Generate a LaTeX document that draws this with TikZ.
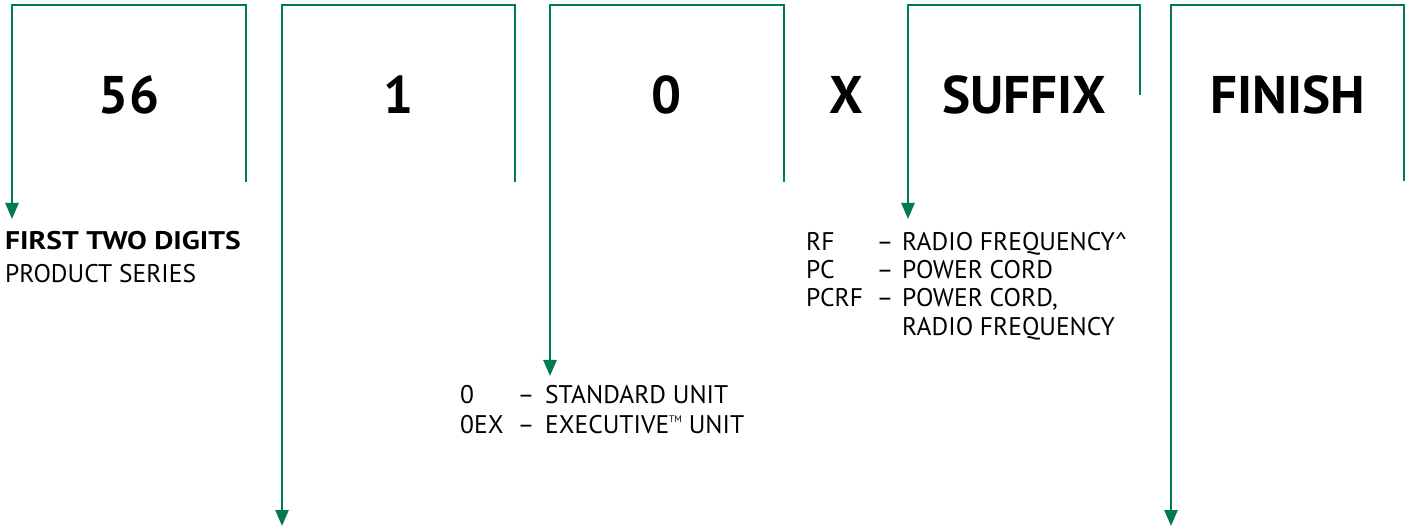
\documentclass[tikz,border=0pt]{standalone}
\usepackage{fontspec}
\setmainfont{PT Sans}
\usetikzlibrary{arrows.meta}
\definecolor{brgreen}{RGB}{0,122,82}
\newcommand{\tmsym}{\raisebox{11pt}{\fontsize{9.5}{10}\selectfont TM}}
\begin{document}
\begin{tikzpicture}[x=1pt,y=-1pt,
  brk/.style={draw=brgreen,line width=2.6pt,line cap=butt,line join=miter},
  brkarr/.style={brk,-{Triangle[width=13pt,length=16pt]}},
  title/.style={font=\fontsize{53}{60}\selectfont\bfseries,inner sep=0pt,anchor=base},
  body/.style={font=\fontsize{25.5}{30}\selectfont,inner sep=0pt,anchor=base west},
  boldbody/.style={body,font=\fontsize{25.5}{30}\selectfont\bfseries\addfontfeature{FakeStretch=1.16}},
  dashn/.style={font=\fontsize{25.5}{30}\selectfont,inner sep=0pt,anchor=base}]
\useasboundingbox (0,0) rectangle (1406,529);
% titles
\node[title] (n56) at (129,114) {56};
\node[title] (n1) at (398.5,114) {1};
\node[title] (n0) at (666.5,114) {0};
\node[title] (nx) at (846,114) {X};
\node[title] (nsuf) at (1024,114) {SUFFIX};
\node[title] (nfin) at (1287.5,114) {FINISH};
% bracket corners
\coordinate (r1) at (246,182); \coordinate (c1) at (12,5); \coordinate (t1) at (12,219);
\coordinate (r2) at (515,182); \coordinate (c2) at (282,5); \coordinate (t2) at (282,526);
\coordinate (r3) at (784,182); \coordinate (c3) at (550,5); \coordinate (t3) at (550,376);
\coordinate (r4) at (1140,95); \coordinate (c4) at (908,5); \coordinate (t4) at (908,219);
\coordinate (r5) at (1404,181); \coordinate (c5) at (1171,5); \coordinate (t5) at (1171,526);
\foreach \i in {1,...,5}{
  \draw[brkarr] (r\i) |- (c\i) -- (t\i);
}
% first two digits
\node[boldbody] (ftd) at (5,250) {FIRST TWO DIGITS};
\node[body] (ps) at (5,283) {PRODUCT SERIES};
% standard unit
\node[body] (s0) at (460,403) {0};
\node[body] (s0ex) at (460,433) {0EX};
\node[dashn] (sd1) at (526,403) {–};
\node[dashn] (sd2) at (526,433) {–};
\node[body] (su1) at (545,403) {STANDARD UNIT};
\node[body] (su2) at (545,433) {EXECUTIVE\tmsym\ UNIT};
% suffix list
\node[body] (rf) at (806,251) {RF};
\node[body] (pc) at (806,279) {PC};
\node[body] (pcrf) at (806,307) {PCRF};
\node[dashn] (rd1) at (885,251) {–};
\node[dashn] (rd2) at (885,279) {–};
\node[dashn] (rd3) at (885,307) {–};
\node[body] (rfd) at (902,251) {RADIO FREQUENCY\textasciicircum};
\node[body] (pcd) at (902,279) {POWER CORD};
\node[body] (pcrfd1) at (902,307) {POWER CORD,};
\node[body] (pcrfd2) at (902,336) {RADIO FREQUENCY};
\end{tikzpicture}
\end{document}
